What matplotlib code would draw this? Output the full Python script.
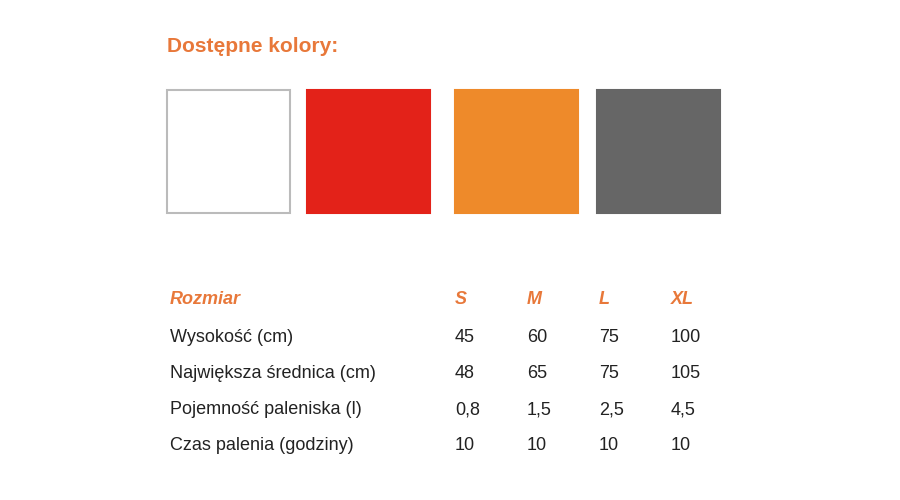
import matplotlib
matplotlib.use("Agg")
import matplotlib.pyplot as plt
from matplotlib.patches import Rectangle

plt.rcParams['font.family'] = ['Liberation Sans', 'DejaVu Sans']

title = "Dostępne kolory:"
swatch_colors = ["#ffffff", "#e32219", "#ee8a2a", "#666666"]
header_label = "Rozmiar"
sizes = ["S", "M", "L", "XL"]
row_labels = ["Wysokość (cm)", "Największa średnica (cm)", "Pojemność paleniska (l)", "Czas palenia (godziny)"]
values = [["45", "60", "75", "100"],
          ["48", "65", "75", "105"],
          ["0,8", "1,5", "2,5", "4,5"],
          ["10", "10", "10", "10"]]

orange = "#e8783a"
fig = plt.figure(figsize=(9, 5), dpi=100)
ax = fig.add_axes([0, 0, 1, 1])
ax.set_xlim(0, 900); ax.set_ylim(500, 0); ax.axis('off')

ax.text(167, 47, title, color=orange, fontsize=15, fontweight='bold', va='center', ha='left')

sw_x = [167, 307, 455, 597]
for x, c in zip(sw_x, swatch_colors):
    edge = "#bbbbbb" if c == "#ffffff" else c
    ax.add_patch(Rectangle((x, 90), 123, 123, facecolor=c, edgecolor=edge, lw=1.5))

col_x = [455, 527, 599, 671]
ax.text(170, 300, header_label, color=orange, fontsize=13, fontweight='bold', style='italic', va='center')
for x, s in zip(col_x, sizes):
    ax.text(x, 300, s, color=orange, fontsize=13, fontweight='bold', style='italic', va='center')
row_y = [337, 374, 410, 446]
for y, lab, vals in zip(row_y, row_labels, values):
    ax.text(170, y, lab, color="#222222", fontsize=13, va='center')
    for x, v in zip(col_x, vals):
        ax.text(x, y, v, color="#222222", fontsize=13, va='center')

fig.savefig("out.png", dpi=100)
